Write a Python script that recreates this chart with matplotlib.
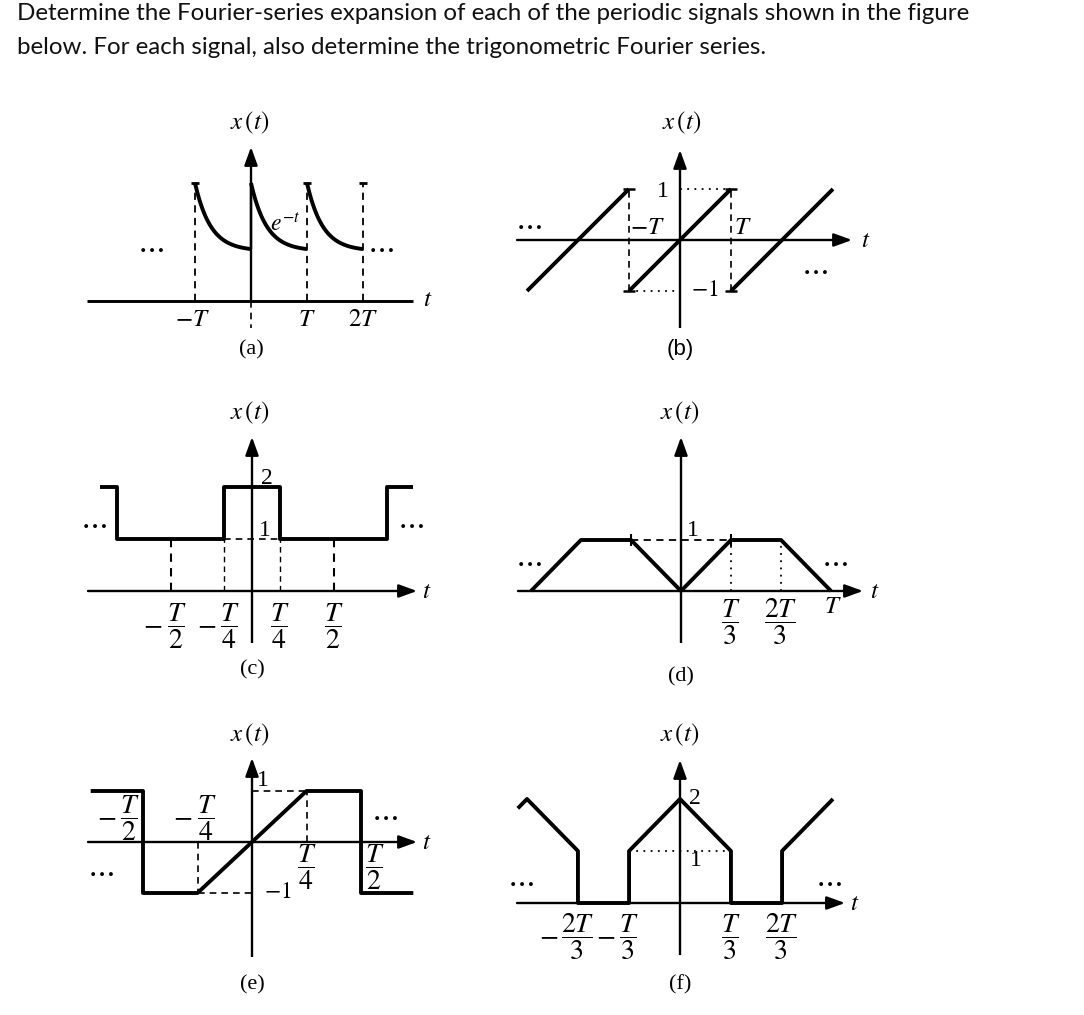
import numpy as np
import matplotlib
matplotlib.use("Agg")
import matplotlib.pyplot as plt
from matplotlib.transforms import blended_transform_factory

# ---------------- data (t in units of T) ----------------
TITLE_LINES = [
    "Determine the Fourier-series expansion of each of the periodic signals shown in the figure",
    "below. For each signal, also determine the trigonometric Fourier series.",
]
PANEL_NAMES = ["(a)", "(b)", "(c)", "(d)", "(e)", "(f)"]

# (a) decaying exponential pulses e^{-t}
a_starts = [-1.0, 0.0, 1.0]
a_peak = 1.0
a_floor = 0.44
a_rate = 3.6
a_jumps = [-1.0, 1.0, 2.0]
a_tick_t = [-1.0, 1.0, 2.0]
a_tick_labels = [r"$-T$", r"$T$", r"$2T$"]

# (b) sawtooth
b_t = [[-3.0, -1.0], [-1.0, 1.0], [1.0, 3.0]]
b_x = [[-1.0, 1.0], [-1.0, 1.0], [-1.0, 1.0]]
b_edges = [-1.0, 1.0]
b_tick_labels = [r"$-T$", r"$T$"]

# (c) pulse train on a pedestal
c_t = [-0.933, -0.828, -0.828, -0.172, -0.172, 0.172, 0.172, 0.828, 0.828, 0.988]
c_x = [2, 2, 1, 1, 2, 2, 1, 1, 2, 2]
c_edges = [-0.172, 0.172]
c_halves = [-0.5, 0.5]
c_ticks = [-0.5, -0.172, 0.172, 0.5]
c_num = ["T", "T", "T", "T"]
c_den = ["2", "4", "4", "2"]
c_neg = [True, True, False, False]

# (d) trapezoids
d_t = [[-1.0, -0.667, -0.333, 0.0], [0.0, 0.333, 0.667, 1.0]]
d_x = [[0, 1, 1, 0], [0, 1, 1, 0]]
d_ticks = [0.333, 0.667]
d_num = ["T", "2T"]
d_den = ["3", "3"]

# (e) ramp with square parts
e_t = [-0.74, -0.5, -0.5, -0.25, 0.25, 0.5, 0.5, 0.74]
e_x = [1, 1, -1, -1, 1, 1, -1, -1]
e_ticks = [-0.5, -0.25, 0.25, 0.5]
e_num = ["T", "T", "T", "T"]
e_den = ["2", "4", "4", "2"]
e_neg = [True, True, False, False]

# (f) triangles on pedestals
f_t = [-1.06, -1.0, -0.667, -0.667, -0.333, -0.333, 0.0, 0.333, 0.333, 0.667, 0.667, 1.0]
f_x = [1.82, 2, 1, 0, 0, 1, 2, 1, 0, 0, 1, 2]
f_ticks = [-0.667, -0.333, 0.333, 0.667]
f_num = ["2T", "T", "T", "2T"]
f_den = ["3", "3", "3", "3"]
f_neg = [True, True, False, False]

# ---------------- style ----------------
plt.rcParams["mathtext.fontset"] = "stix"
plt.rcParams["font.family"] = ["Liberation Serif", "DejaVu Serif"]
W, H = 1084, 1015
fig = plt.figure(figsize=(W / 100, H / 100), dpi=100)
fig.patch.set_facecolor("white")

SIG = 2.8
AXL = 1.7
DSH = 1.2
FS = 18      # math labels
FD = 17      # digits
FF = 20      # fractions
K = "black"


class Panel:
    def __init__(self, box, origin, sx, sy):
        L, Tp, R, B = box
        self.ox, self.oy, self.sx, self.sy = origin[0], origin[1], sx, sy
        self.ax = fig.add_axes([L / W, 1 - B / H, (R - L) / W, (B - Tp) / H])
        self.ax.set_xlim((L - self.ox) / sx, (R - self.ox) / sx)
        self.ax.set_ylim((self.oy - B) / sy, (self.oy - Tp) / sy)
        self.ax.axis("off")
        self.bl = blended_transform_factory(self.ax.transData, fig.transFigure)

    def X(self, px):
        return (px - self.ox) / self.sx

    def Y(self, py):
        return (self.oy - py) / self.sy

    def text(self, px, py, s, **kw):
        kw.setdefault("ha", "center")
        kw.setdefault("va", "center")
        kw.setdefault("fontsize", FS)
        fig.text(px / W, 1 - py / H, s, **kw)

    def line(self, x, y, **kw):
        kw.setdefault("color", K)
        kw.setdefault("lw", SIG)
        kw.setdefault("solid_capstyle", "butt")
        self.ax.plot(x, y, **kw)

    def dashed(self, x, y, lw=DSH):
        self.ax.plot(x, y, color=K, lw=lw, linestyle=(0, (4, 3)))

    def dotted(self, x, y):
        self.ax.plot(x, y, color=K, lw=1.3, linestyle=(0, (1, 3)))

    def arrow(self, x0, y0, x1, y1):
        self.ax.annotate("", xy=(x1, y1), xytext=(x0, y0),
                         arrowprops=dict(arrowstyle="-|>,head_length=0.55,head_width=0.2",
                                         lw=AXL, color=K, shrinkA=0, shrinkB=0,
                                         mutation_scale=20))

    def frac(self, t, dxpx, py, num, den, neg=False, fs=FF):
        self.ax.annotate(r"$\dfrac{%s}{%s}$" % (num, den), xy=(t, 1 - py / H), xycoords=self.bl,
                         xytext=(dxpx * 0.72, 0), textcoords="offset points",
                         ha="center", va="center", fontsize=fs)
        if neg:
            w = 10 if len(num) == 1 else 14
            self.ax.annotate(r"$-$", xy=(t, 1 - py / H), xycoords=self.bl,
                             xytext=(dxpx * 0.72 - w, 0), textcoords="offset points",
                             ha="right", va="center", fontsize=fs)

    def tlabel(self, t, dxpx, py, s, fs=FS):
        self.ax.annotate(s, xy=(t, 1 - py / H), xycoords=self.bl,
                         xytext=(dxpx * 0.72, 0), textcoords="offset points",
                         ha="center", va="center", fontsize=fs)

    def dots(self, px, py):
        self.text(px, py, r"$\cdots$", fontsize=22)


# ---------------- title ----------------
tt = [fig.text(17 / W, 1 - 20 / H, TITLE_LINES[0], fontfamily=["Lato", "DejaVu Sans"],
               fontsize=15, color="#111111", va="baseline", ha="left"),
      fig.text(17 / W, 1 - 54 / H, TITLE_LINES[1], fontfamily=["Lato", "DejaVu Sans"],
               fontsize=15, color="#111111", va="baseline", ha="left")]
r = fig.canvas.get_renderer()
wid = tt[0].get_window_extent(r).width
scale = 955.0 / wid
for t in tt:
    t.set_fontsize(15 * scale)

# ---------------- (a) ----------------
p = Panel((80, 100, 440, 360), (251, 301), 56, 118)
p.line([p.X(87), p.X(413)], [0, 0], lw=AXL + 0.4)
p.text(428, 300, r"$t$")
p.arrow(0, 0, 0, p.Y(147))
p.dashed([0, 0], [0, p.Y(328)])
for s in a_starts:
    tt_ = np.linspace(s, s + 1, 100)
    g = (np.exp(-a_rate * (tt_ - s)) - np.exp(-a_rate)) / (1 - np.exp(-a_rate))
    p.line(tt_, a_floor + (a_peak - a_floor) * g)
for j in a_jumps:
    p.dashed([j, j], [0, a_peak], lw=1.3)
    p.line([j - 0.07, j + 0.07], [a_peak, a_peak], lw=2.0)
p.line([0, 0], [a_floor, a_peak], lw=AXL)
for t, s in zip(a_tick_t, a_tick_labels):
    p.tlabel(t, -3 if t < 0 else 0, 320, s)
p.text(285, 224, r"$e^{-t}$", fontsize=17)
p.dots(150, 249)
p.dots(380, 249)
p.text(250, 123, r"$x\,(t)$")
p.text(251, 350, PANEL_NAMES[0], fontsize=16)

# ---------------- (b) ----------------
p = Panel((500, 100, 880, 360), (680, 240), 51, 51)
p.arrow(p.X(517), 0, p.X(852), 0)
p.text(866, 241, r"$t$")
p.line([0, 0], [0, p.Y(328)], lw=AXL)
p.arrow(0, 0, 0, p.Y(150))
for tseg, xseg in zip(b_t, b_x):
    p.line(tseg, xseg)
for e in b_edges:
    p.dashed([e, e], [-1, 1])
    for lev in (-1, 1):
        p.line([e - 0.12, e + 0.12], [lev, lev], lw=1.8)
p.dotted([b_edges[0], 0], [-1, -1])
p.dotted([0, b_edges[1]], [1, 1])
p.text(663, 191, "1", fontsize=FD)
p.text(705, 291, "$-1$", fontsize=FD)
p.tlabel(b_edges[0], 18, 228, b_tick_labels[0])
p.tlabel(b_edges[1], 12, 228, b_tick_labels[1])
p.dots(528, 225)
p.dots(814, 271)
p.text(682, 123, r"$x\,(t)$")
p.text(680, 350, PANEL_NAMES[1], fontsize=16, fontfamily=["Liberation Sans", "DejaVu Sans"])

# ---------------- (c) ----------------
p = Panel((80, 390, 460, 690), (252, 591), 163, 52)
p.arrow(p.X(88), 0, p.X(417), 0)
p.text(427, 592, r"$t$")
p.line([0, 0], [0, p.Y(643)], lw=AXL)
p.arrow(0, 0, 0, p.Y(437))
p.line(c_t, c_x)
for e in c_halves:
    p.dashed([e, e], [0, 1], lw=1.5)
for e in c_edges:
    p.dashed([e, e], [0, 1], lw=1.0)
p.dashed(c_edges, [1, 1], lw=1.2)
p.text(267, 479, "2", fontsize=FD)
p.text(265, 531, "1", fontsize=FD)
for t, n, d, ng in zip(c_ticks, c_num, c_den, c_neg):
    p.frac(t, 6 if ng else 0, 626, n, d, ng)
p.dots(93, 525)
p.dots(410, 525)
p.text(250, 413, r"$x\,(t)$")
p.text(252, 670, PANEL_NAMES[2], fontsize=16)

# ---------------- (d) ----------------
p = Panel((500, 390, 900, 690), (681, 591), 150, 51)
p.arrow(p.X(518), 0, p.X(863), 0)
p.text(875, 592, r"$t$")
p.line([0, 0], [0, p.Y(643)], lw=AXL)
p.arrow(0, 0, 0, p.Y(437))
for tseg, xseg in zip(d_t, d_x):
    p.line(tseg, xseg)
p.dashed([-d_ticks[0], d_ticks[0]], [1, 1], lw=1.3)
for t in d_ticks:
    p.dotted([t, t], [0, 1])
for t in (-d_ticks[0], d_ticks[0]):
    p.line([t, t], [0.88, 1.12], lw=1.5)
p.text(693, 530, "1", fontsize=FD)
for t, n, d in zip(d_ticks, d_num, d_den):
    p.frac(t, 0, 622, n, d)
p.tlabel(1.0, 2, 607, r"$T$")
p.dots(528, 562)
p.dots(834, 562)
p.text(680, 413, r"$x\,(t)$")
p.text(681, 677, PANEL_NAMES[3], fontsize=16)

# ---------------- (e) ----------------
p = Panel((80, 710, 460, 1010), (252, 842), 218, 51)
p.arrow(p.X(88), 0, p.X(417), 0)
p.text(427, 843, r"$t$")
p.line([0, 0], [0, p.Y(957)], lw=AXL)
p.arrow(0, 0, 0, p.Y(758))
p.line(e_t, e_x)
p.dashed([0, 0.25], [1, 1])
p.dashed([0.25, 0.25], [0, 1])
p.dashed([-0.25, 0], [-1, -1])
p.dashed([-0.25, -0.25], [0, -1])
p.text(263, 781, "1", fontsize=FD)
p.text(278, 893, "$-1$", fontsize=FD)
offs = [(-13, 818), (9, 818), (0, 867), (14, 867)]
for t, n, d, ng, (dx, py) in zip(e_ticks, e_num, e_den, e_neg, offs):
    p.frac(t, dx, py, n, d, ng)
p.dots(100, 872)
p.dots(384, 817)
p.text(250, 735, r"$x\,(t)$")
p.text(252, 985, PANEL_NAMES[4], fontsize=16)

# ---------------- (f) ----------------
p = Panel((500, 710, 900, 1010), (680, 903), 153, 52)
p.arrow(p.X(517), 0, p.X(845), 0)
p.text(855, 904, r"$t$")
p.line([0, 0], [0, p.Y(955)], lw=AXL)
p.arrow(0, 0, 0, p.Y(760))
p.line(f_t, f_x)
p.dotted([f_ticks[1], f_ticks[2]], [1, 1])
p.text(695, 798, "2", fontsize=FD)
p.text(696, 861, "1", fontsize=FD)
for t, n, d, ng in zip(f_ticks, f_num, f_den, f_neg):
    p.frac(t, 0, 937, n, d, ng)
p.dots(520, 882)
p.dots(828, 882)
p.text(680, 735, r"$x\,(t)$")
p.text(680, 985, PANEL_NAMES[5], fontsize=16)

fig.savefig("out.png", dpi=100, facecolor="white")
